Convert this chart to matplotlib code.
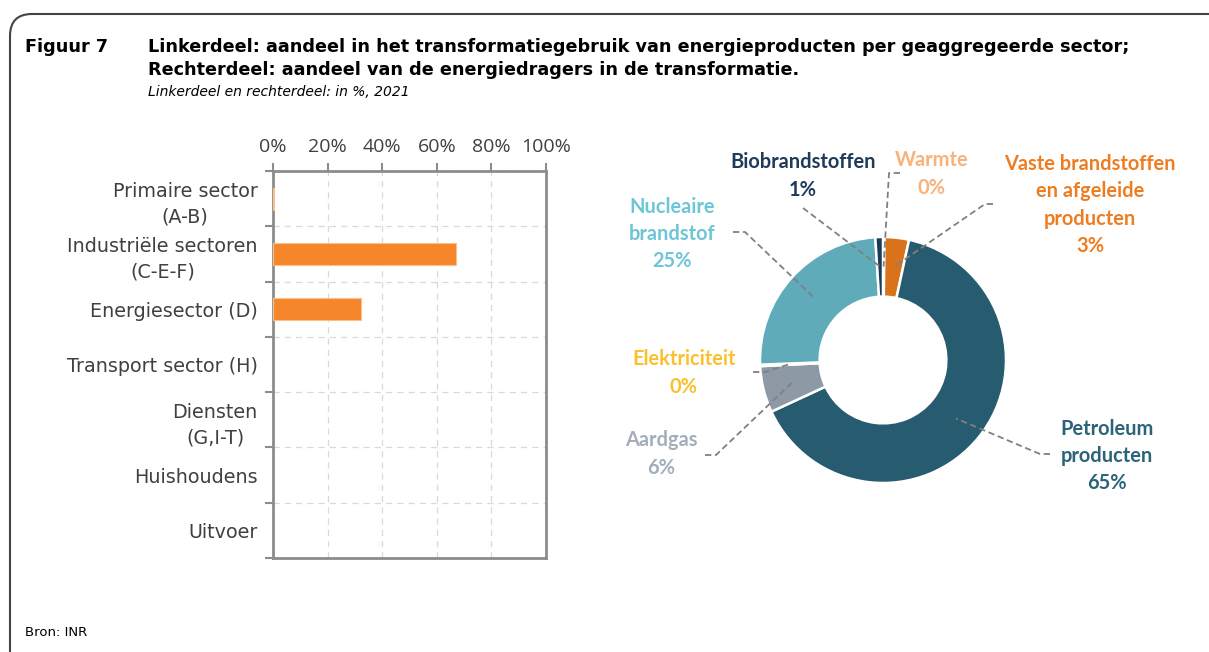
import numpy as np
import matplotlib.pyplot as plt
from matplotlib.patches import FancyBboxPatch

# left panel: share of transformation use per aggregated sector (%)
sectors = ["Primaire sector\n(A-B)", "Industriële sectoren\n(C-E-F)", "Energiesector (D)",
           "Transport sector (H)", "Diensten\n(G,I-T)", "Huishoudens", "Uitvoer"]
sector_share = [0.5, 67.0, 32.2, 0.0, 0.0, 0.0, 0.0]

# right panel: share of energy carriers in transformation (%)
carriers = ["Warmte", "Vaste brandstoffen\nen afgeleide\nproducten", "Petroleum\nproducten",
            "Aardgas", "Elektriciteit", "Nucleaire\nbrandstof", "Biobrandstoffen"]
carrier_share = [0.2, 3.2, 64.7, 6.1, 0.2, 24.6, 1.0]
wedge_colors = ["#F9B27A", "#D9731B", "#275B6F", "#8E99A6", "#FCC23E", "#5FABBA", "#1B3A57"]
label_colors = ["#F9B27A", "#EE7D22", "#2B6478", "#A3AEBB", "#FBC02D", "#6CC6D6", "#1F3A5A"]

W, H = 1209, 652
fig = plt.figure(figsize=(W / 100, H / 100), dpi=100)

# outer frame, drawn on a pixel-scaled overlay
bg = fig.add_axes([0, 0, 1, 1])
bg.set_xlim(0, W)
bg.set_ylim(H, 0)
bg.axis("off")
bg.add_patch(FancyBboxPatch((10, 14), 1260, 700, boxstyle="round,pad=0,rounding_size=22",
                            fill=False, ec="#444444", lw=1.5))

fig.text(25 / W, 1 - 47 / H, "Figuur 7", fontsize=12.7, fontweight="bold", va="center")
fig.text(148 / W, 1 - 47 / H,
         "Linkerdeel: aandeel in het transformatiegebruik van energieproducten per geaggregeerde sector;",
         fontsize=12.7, fontweight="bold", va="center")
fig.text(148 / W, 1 - 70 / H, "Rechterdeel: aandeel van de energiedragers in de transformatie.",
         fontsize=12.7, fontweight="bold", va="center")
fig.text(148 / W, 1 - 92 / H, "Linkerdeel en rechterdeel: in %, 2021",
         fontsize=10, style="italic", va="center")
fig.text(25 / W, 1 - 633 / H, "Bron: INR", fontsize=9.5, va="center")

# ---- left: horizontal bars ----
ax = fig.add_axes([273 / W, 1 - 558 / H, 273 / W, 387 / H])
y = np.arange(len(sectors))
ax.barh(y, sector_share, height=0.4, color="#F5862A", edgecolor="#F9C08A",
        lw=[0.8 if v > 0 else 0 for v in sector_share], zorder=3)
ax.set_xlim(0, 100)
ax.set_ylim(len(sectors) - 0.5, -0.5)
ax.xaxis.tick_top()
ax.set_xticks(np.arange(0, 101, 20))
ax.set_xticklabels([f"{v}%" for v in range(0, 101, 20)], fontsize=14, color="#404040",
                   family="Open Sans")
ax.tick_params(axis="x", length=6, width=1.5, color="#8C8C8C", pad=5)
ax.set_yticks(y)
ax.set_yticklabels(sectors, fontsize=13.8, color="#404040", linespacing=1.45)
for t in ax.get_yticklabels():
    t.set_multialignment("center")
ax.tick_params(axis="y", which="major", length=0, pad=11)
ax.set_yticks(np.arange(-0.5, len(sectors)), minor=True)
ax.tick_params(axis="y", which="minor", length=6, width=1.5, color="#8C8C8C")
ax.grid(axis="x", which="major", ls=(0, (5, 4)), color="#D9D9D9", lw=0.9, zorder=0)
ax.grid(axis="y", which="minor", ls=(0, (5, 4)), color="#D9D9D9", lw=0.9, zorder=0)
for s in ax.spines.values():
    s.set_color("#8C8C8C")
    s.set_linewidth(2)

# ---- right: donut ----
cx, cy, R = 883, 360, 123
pax = fig.add_axes([600 / W, 1 - 520 / H, 609 / W, 390 / H])
wedges, _ = pax.pie(carrier_share, colors=wedge_colors, startangle=90, counterclock=False,
                    radius=1, wedgeprops=dict(width=0.485, edgecolor="white", lw=1.8))
pax.set_aspect("auto")
pax.set_xlim((600 - cx) / R, (W - cx) / R)
pax.set_ylim((cy - 520) / R, (cy - 130) / R)


def px(x, yy):
    return (x - cx) / R, (cy - yy) / R


# label layout in pixels: text centre, line start, elbow
label_pos = {
    "Warmte": ((932, 174), (900, 173), (889, 173)),
    "Vaste": ((1090, 205), (993, 204), (985, 204)),
    "Petroleum": ((1107, 456), (1050, 454), (1040, 454)),
    "Aardgas": ((661, 454), (705, 455), (716, 455)),
    "Elektriciteit": ((684, 373), (753, 372), (765, 372)),
    "Nucleaire": ((672, 234), (733, 232), (745, 232)),
    "Biobrandstoffen": ((803, 176), (803, 208), (803, 208)),
}

cum = np.cumsum([0] + carrier_share)
for i, name in enumerate(carriers):
    key = name.split()[0]
    (tx, ty), (sx, sy), (ex, ey) = label_pos[key]
    mid = (cum[i] + cum[i + 1]) / 2 / 100 * 2 * np.pi
    ax_, ay_ = 0.76 * np.sin(mid), 0.76 * np.cos(mid)
    p0, p1 = px(sx, sy), px(ex, ey)
    pax.plot([p0[0], p1[0], ax_], [p0[1], p1[1], ay_], color="#808080", lw=1.3,
             ls=(0, (3.5, 2)), zorder=5, clip_on=False)
    pax.text(*px(tx, ty), f"{name}\n{carrier_share[i]:.0f}%", ha="center", va="center",
             family="Lato", fontweight="bold", fontsize=14.4, color=label_colors[i],
             linespacing=1.45)

fig.savefig("out.png", dpi=100)
